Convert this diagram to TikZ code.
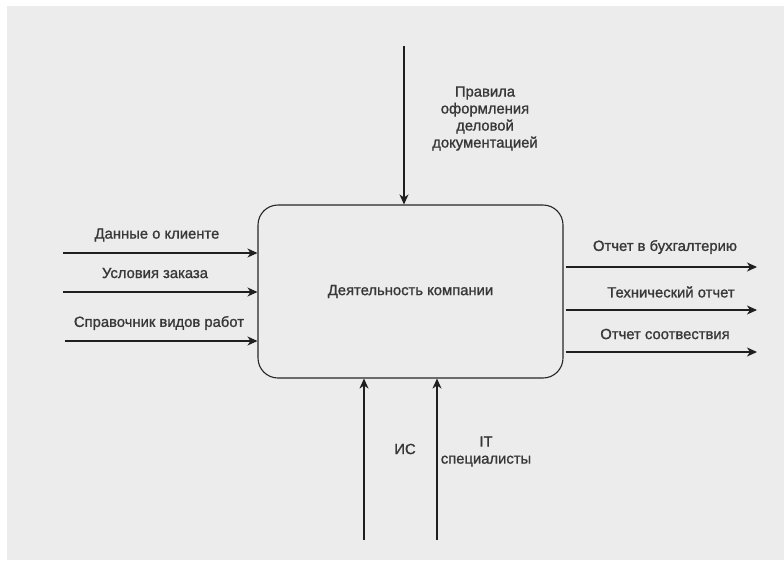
\documentclass[tikz,border=0pt]{standalone}
\usepackage{fontspec}
\setmainfont{Liberation Sans}
\newfontfamily\lblfont[FakeBold=1.2]{Liberation Sans}
\usetikzlibrary{arrows.meta}
\begin{document}
\begin{tikzpicture}[x=1pt,y=-1pt,
  flow/.style={draw=black!88,line width=1.1pt,-{Stealth[length=10pt,width=9pt,inset=3pt]}},
  lbl/.style={font=\lblfont\fontsize{14.8}{17}\selectfont,text=black!78,inner sep=0pt,align=center}]
  \useasboundingbox (0,0) rectangle (784,560);
  \fill[white] (0,0) rectangle (784,560);
  \fill[black!7.5] (7,6) rectangle (784,560);

  % activity box
  \node[draw=black!85,line width=1.1pt,rounded corners=20pt,minimum width=305pt,minimum height=173pt,
        lbl] (act) at (410.5,291.5) {Деятельность компании};

  % control
  \coordinate (c0) at (404,46);
  \draw[flow] (c0) -- (c0 |- act.north);
  \node[lbl] (cl) at (485,118.5) {Правила\\оформления\\деловой\\документацией};

  % inputs
  \coordinate (i1) at (63,253);
  \coordinate (i2) at (63,292);
  \coordinate (i3) at (65,341);
  \draw[flow] (i1) -- (i1 -| act.west);
  \draw[flow] (i2) -- (i2 -| act.west);
  \draw[flow] (i3) -- (i3 -| act.west);
  \node[lbl] (il1) at (157,235) {Данные о клиенте};
  \node[lbl] (il2) at (155,273) {Условия заказа};
  \node[lbl] (il3) at (159,323) {Справочник видов работ};

  % outputs
  \coordinate (o1) at (757,267);
  \coordinate (o2) at (757,310);
  \coordinate (o3) at (757,352);
  \draw[flow] (o1 -| act.east) ++(2,0) -- (o1);
  \draw[flow] (o2 -| act.east) ++(2,0) -- (o2);
  \draw[flow] (o3 -| act.east) ++(2,0) -- (o3);
  \node[lbl] (ol1) at (665,247) {Отчет в бухгалтерию};
  \node[lbl] (ol2) at (671,292) {Технический отчет};
  \node[lbl] (ol3) at (665,334) {Отчет соотвествия};

  % mechanisms
  \coordinate (m1) at (364,540);
  \coordinate (m2) at (437,540);
  \draw[flow] (m1) -- (m1 |- act.south);
  \draw[flow] (m2) -- (m2 |- act.south);
  \node[lbl] (ml1) at (405,449) {ИС};
  \node[lbl] (ml2) at (486,451.5) {IT\\специалисты};
\end{tikzpicture}
\end{document}
